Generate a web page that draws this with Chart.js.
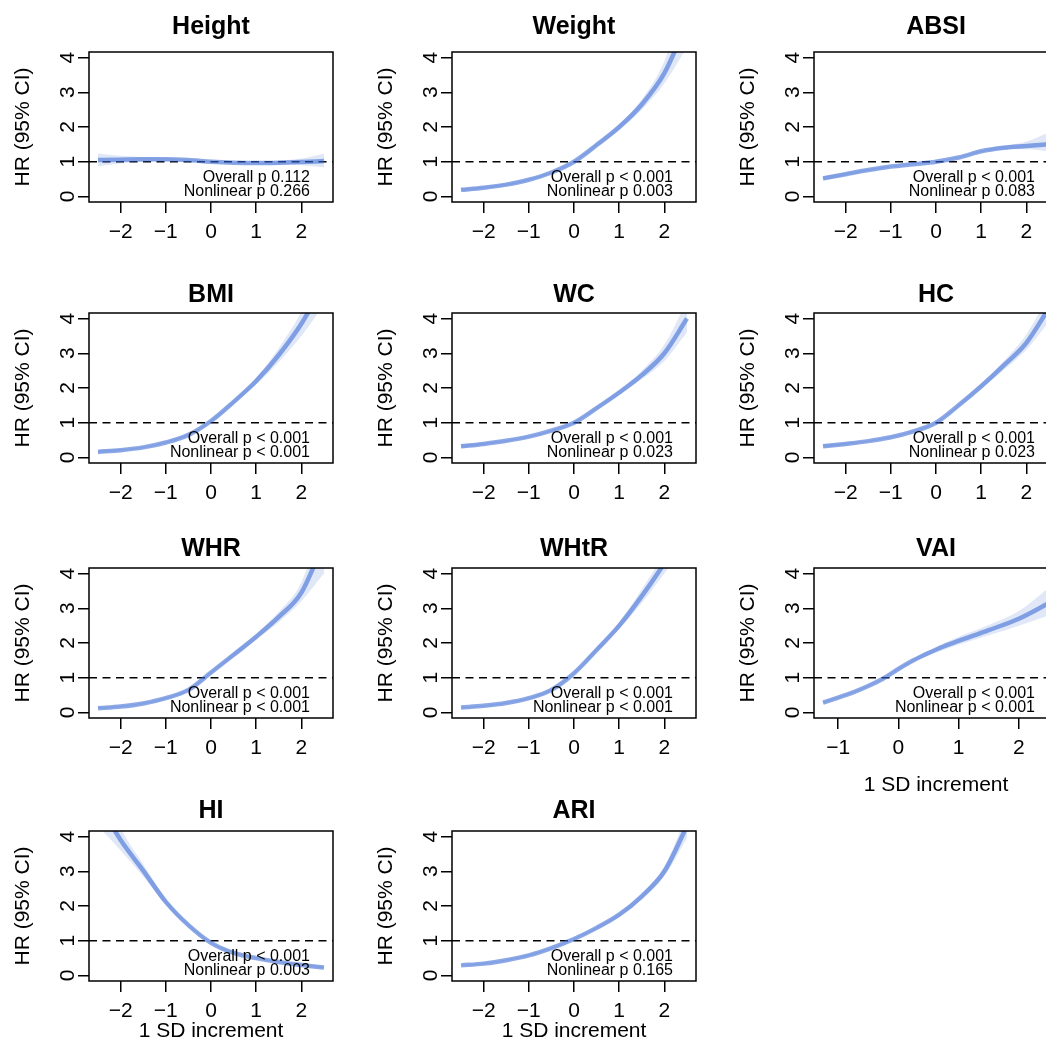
<!DOCTYPE html>
<html>
<head>
<meta charset="utf-8">
<script src="https://cdn.jsdelivr.net/npm/chart.js@4.4.1/dist/chart.umd.min.js"></script>
<style>
  html, body { margin: 0; padding: 0; background: #fff; }
  body { width: 1046px; height: 1046px; overflow: hidden; position: relative; }
  canvas { position: absolute; }
</style>
</head>
<body>
<script>
// x grid in SD units (all panels but VAI)
var sdSteps = [-2.5, -2, -1.5, -1, -0.5, 0, 0.5, 1, 1.5, 2, 2.5];
var vaiSteps = [-1.25, -1, -0.75, -0.5, -0.25, 0, 0.25, 0.5, 0.75, 1, 1.5, 2, 2.5];
var sdTicks = [-2, -1, 0, 1, 2];
var vaiTicks = [-1, 0, 1, 2];
var hrTicks = [0, 1, 2, 3, 4];
var refHR = 1;

var heightHR = [1.05, 1.06, 1.07, 1.07, 1.05, 1.0, 0.97, 0.96, 0.97, 0.99, 1.02];
var heightLo = [0.87, 0.95, 1.0, 1.02, 1.01, 0.98, 0.94, 0.92, 0.92, 0.9, 0.84];
var heightHi = [1.24, 1.17, 1.13, 1.11, 1.08, 1.02, 1.0, 1.0, 1.03, 1.09, 1.23];

var weightHR = [0.19, 0.25, 0.34, 0.48, 0.69, 1.0, 1.48, 2.0, 2.65, 3.55, 5.0];
var weightLo = [0.15, 0.22, 0.31, 0.45, 0.66, 0.98, 1.43, 1.92, 2.5, 3.25, 4.3];
var weightHi = [0.24, 0.29, 0.37, 0.51, 0.72, 1.02, 1.53, 2.08, 2.8, 3.9, 5.9];

var absiHR = [0.52, 0.64, 0.76, 0.86, 0.93, 1.0, 1.12, 1.3, 1.4, 1.45, 1.5];
var absiLo = [0.46, 0.6, 0.73, 0.84, 0.92, 0.99, 1.1, 1.27, 1.35, 1.36, 1.3];
var absiHi = [0.59, 0.68, 0.79, 0.88, 0.95, 1.01, 1.14, 1.33, 1.46, 1.58, 1.85];

var bmiHR = [0.16, 0.21, 0.29, 0.43, 0.65, 1.05, 1.6, 2.2, 2.95, 3.85, 5.0];
var bmiLo = [0.13, 0.19, 0.27, 0.41, 0.62, 1.02, 1.55, 2.1, 2.75, 3.5, 4.4];
var bmiHi = [0.2, 0.24, 0.31, 0.46, 0.68, 1.08, 1.65, 2.3, 3.15, 4.2, 5.6];

var wcHR = [0.32, 0.39, 0.48, 0.6, 0.77, 1.0, 1.42, 1.87, 2.37, 3.0, 4.0];
var wcLo = [0.27, 0.36, 0.46, 0.58, 0.75, 0.98, 1.38, 1.8, 2.25, 2.78, 3.6];
var wcHi = [0.37, 0.42, 0.5, 0.62, 0.79, 1.02, 1.46, 1.94, 2.5, 3.25, 4.5];

var hcHR = [0.32, 0.39, 0.47, 0.58, 0.75, 1.0, 1.5, 2.05, 2.65, 3.3, 4.3];
var hcLo = [0.28, 0.36, 0.45, 0.56, 0.73, 0.98, 1.46, 1.98, 2.52, 3.1, 3.9];
var hcHi = [0.37, 0.42, 0.49, 0.6, 0.77, 1.02, 1.54, 2.12, 2.78, 3.55, 4.7];

var whrHR = [0.12, 0.17, 0.26, 0.41, 0.65, 1.15, 1.66, 2.18, 2.75, 3.45, 4.9];
var whrLo = [0.1, 0.15, 0.24, 0.39, 0.62, 1.12, 1.6, 2.1, 2.6, 3.2, 4.0];
var whrHi = [0.15, 0.19, 0.28, 0.43, 0.68, 1.18, 1.72, 2.27, 2.9, 3.75, 5.7];

var whtrHR = [0.14, 0.19, 0.27, 0.41, 0.65, 1.13, 1.8, 2.5, 3.35, 4.3, 5.4];
var whtrLo = [0.12, 0.17, 0.25, 0.39, 0.62, 1.1, 1.74, 2.4, 3.15, 4.0, 4.9];
var whtrHi = [0.16, 0.21, 0.29, 0.43, 0.68, 1.16, 1.86, 2.6, 3.55, 4.6, 5.9];

var vaiHR = [0.28, 0.43, 0.58, 0.76, 0.98, 1.25, 1.5, 1.71, 1.9, 2.06, 2.37, 2.7, 3.15];
var vaiLo = [0.25, 0.41, 0.56, 0.74, 0.96, 1.22, 1.46, 1.64, 1.8, 1.95, 2.22, 2.5, 2.8];
var vaiHi = [0.31, 0.45, 0.6, 0.78, 1.0, 1.28, 1.54, 1.78, 1.99, 2.18, 2.52, 2.92, 3.6];

var hiHR = [5.0, 3.9, 3.02, 2.12, 1.45, 0.94, 0.65, 0.5, 0.39, 0.3, 0.23];
var hiLo = [4.3, 3.6, 2.85, 2.04, 1.41, 0.92, 0.63, 0.48, 0.37, 0.27, 0.2];
var hiHi = [5.8, 4.25, 3.2, 2.2, 1.49, 0.96, 0.67, 0.52, 0.41, 0.33, 0.26];

var ariHR = [0.29, 0.34, 0.44, 0.58, 0.79, 1.05, 1.37, 1.75, 2.28, 3.0, 4.3];
var ariLo = [0.27, 0.32, 0.42, 0.56, 0.77, 1.03, 1.34, 1.7, 2.2, 2.86, 3.95];
var ariHi = [0.31, 0.36, 0.46, 0.6, 0.81, 1.07, 1.4, 1.8, 2.36, 3.14, 4.65];

var panelNames = ['Height', 'Weight', 'ABSI', 'BMI', 'WC', 'HC', 'WHR', 'WHtR', 'VAI', 'HI', 'ARI'];
var overallP = ['Overall p 0.112', 'Overall p < 0.001', 'Overall p < 0.001', 'Overall p < 0.001',
  'Overall p < 0.001', 'Overall p < 0.001', 'Overall p < 0.001', 'Overall p < 0.001',
  'Overall p < 0.001', 'Overall p < 0.001', 'Overall p < 0.001'];
var nonlinearP = ['Nonlinear p 0.266', 'Nonlinear p 0.003', 'Nonlinear p 0.083', 'Nonlinear p < 0.001',
  'Nonlinear p 0.023', 'Nonlinear p 0.023', 'Nonlinear p < 0.001', 'Nonlinear p < 0.001',
  'Nonlinear p < 0.001', 'Nonlinear p 0.003', 'Nonlinear p 0.165'];

var panelSeries = [
  [heightHR, heightLo, heightHi], [weightHR, weightLo, weightHi], [absiHR, absiLo, absiHi],
  [bmiHR, bmiLo, bmiHi], [wcHR, wcLo, wcHi], [hcHR, hcLo, hcHi],
  [whrHR, whrLo, whrHi], [whtrHR, whtrLo, whtrHi], [vaiHR, vaiLo, vaiHi],
  [hiHR, hiLo, hiHi], [ariHR, ariLo, ariHi]
];

// layout of the 3 x 4 grid (plot box corners in page pixels)
var colLeft = [89, 452, 814];
var rowTop = [52, 313, 568, 831];
var rowTitleGap = [25, 17.5, 18.5, 20];
var boxW = 244, boxH = 150, axisW = 89, titleH = 60, xAxisH = 85;

var FONT = '"Liberation Sans", Arial, Helvetica, sans-serif';
var lineColor = 'rgba(50, 100, 210, 0.56)';
var bandColor = 'rgba(50, 100, 210, 0.15)';

function minus(v) { return v < 0 ? '\u2212' + Math.abs(v) : String(v); }
function pts(xs, ys) { return xs.map(function (x, i) { return { x: x, y: ys[i] }; }); }

var framePlugin = {
  id: 'frame',
  beforeDatasetsDraw: function (chart) {
    var a = chart.chartArea, ctx = chart.ctx;
    var py = chart.scales.y.getPixelForValue(refHR);
    ctx.save();
    ctx.strokeStyle = '#000';
    ctx.lineWidth = 1.5;
    ctx.setLineDash([8, 5.5]);
    ctx.beginPath();
    ctx.moveTo(a.left, py);
    ctx.lineTo(a.right, py);
    ctx.stroke();
    ctx.restore();
  },
  afterDraw: function (chart, args, opts) {
    var a = chart.chartArea, ctx = chart.ctx, y = chart.scales.y;
    ctx.save();
    ctx.strokeStyle = '#000';
    ctx.lineWidth = 1.5;
    ctx.strokeRect(a.left, a.top, a.right - a.left, a.bottom - a.top);

    // rotated y tick labels, like R's default las = 0
    ctx.fillStyle = '#000';
    ctx.font = '21px ' + FONT;
    ctx.textAlign = 'center';
    ctx.textBaseline = 'alphabetic';
    hrTicks.forEach(function (v) {
      ctx.save();
      ctx.translate(a.left - 15, y.getPixelForValue(v));
      ctx.rotate(-Math.PI / 2);
      ctx.fillText(String(v), 0, 0);
      ctx.restore();
    });

    ctx.font = '16px ' + FONT;
    ctx.textAlign = 'right';
    ctx.fillText(opts.overall, a.right - 23, y.getPixelForValue(0.58) + 5.7);
    ctx.fillText(opts.nonlinear, a.right - 23, y.getPixelForValue(0.19) + 5.7);
    ctx.restore();
  }
};

panelNames.forEach(function (name, i) {
  var col = i % 3, row = Math.floor(i / 3);
  var isVai = name === 'VAI';
  var xs = isVai ? vaiSteps : sdSteps;
  var ticks = isVai ? vaiTicks : sdTicks;
  var xMin = isVai ? -1.4 : -2.7, xMax = isVai ? 2.65 : 2.7;
  var showXTitle = name === 'VAI' || name === 'HI' || name === 'ARI';
  var xTitleBottom = isVai ? 5.4 : 22.4;
  var s = panelSeries[i];

  var canvas = document.createElement('canvas');
  canvas.width = axisW * 2 + boxW;
  canvas.height = titleH + boxH + xAxisH;
  canvas.style.left = (colLeft[col] - axisW) + 'px';
  canvas.style.top = (rowTop[row] - titleH) + 'px';
  document.body.appendChild(canvas);

  var titleTop = 45 - rowTitleGap[row];

  new Chart(canvas.getContext('2d'), {
    type: 'line',
    data: {
      datasets: [{
        data: pts(xs, s[0]),
        borderColor: lineColor,
        borderWidth: 4.5,
        pointRadius: 0,
        cubicInterpolationMode: 'monotone',
        fill: false,
        clip: 0
      }, {
        data: pts(xs, s[1]),
        borderColor: 'transparent',
        borderWidth: 0,
        pointRadius: 0,
        cubicInterpolationMode: 'monotone',
        fill: false,
        clip: 0
      }, {
        data: pts(xs, s[2]),
        borderColor: 'transparent',
        borderWidth: 0,
        pointRadius: 0,
        cubicInterpolationMode: 'monotone',
        backgroundColor: bandColor,
        fill: '-1',
        clip: 0
      }]
    },
    options: {
      responsive: false,
      animation: false,
      devicePixelRatio: 1,
      layout: { padding: { left: 0, right: axisW, top: 0, bottom: 0 } },
      plugins: {
        legend: { display: false },
        tooltip: { enabled: false },
        title: {
          display: true,
          text: name,
          fullSize: false,
          color: '#000',
          font: { family: FONT, size: 25, weight: 'bold', lineHeight: 1.2 },
          padding: { top: titleTop, bottom: 30 - titleTop }
        },
        frame: { overall: overallP[i], nonlinear: nonlinearP[i] }
      },
      scales: {
        x: {
          type: 'linear',
          min: xMin,
          max: xMax,
          afterBuildTicks: function (sc) { sc.ticks = ticks.map(function (v) { return { value: v }; }); },
          afterFit: function (sc) { sc.height = xAxisH; },
          border: { display: false },
          grid: { drawOnChartArea: false, drawTicks: true, tickLength: 11, color: '#000', lineWidth: 1.5 },
          ticks: {
            color: '#000',
            font: { family: FONT, size: 21 },
            padding: 7,
            maxRotation: 0,
            autoSkip: false,
            callback: function (v) { return minus(v); }
          },
          title: {
            display: showXTitle,
            text: '1 SD increment',
            color: '#000',
            font: { family: FONT, size: 21 },
            padding: { top: 0, bottom: xTitleBottom }
          }
        },
        y: {
          type: 'linear',
          min: -0.16,
          max: 4.16,
          afterBuildTicks: function (sc) { sc.ticks = hrTicks.map(function (v) { return { value: v }; }); },
          afterFit: function (sc) { sc.width = axisW; },
          border: { display: false },
          grid: { drawOnChartArea: false, drawTicks: true, tickLength: 11, color: '#000', lineWidth: 1.5 },
          ticks: { display: false },
          title: {
            display: true,
            text: 'HR (95% CI)',
            color: '#000',
            font: { family: FONT, size: 21 },
            padding: { top: 10.4, bottom: 0 }
          }
        }
      }
    },
    plugins: [framePlugin]
  });
});
</script>
</body>
</html>
